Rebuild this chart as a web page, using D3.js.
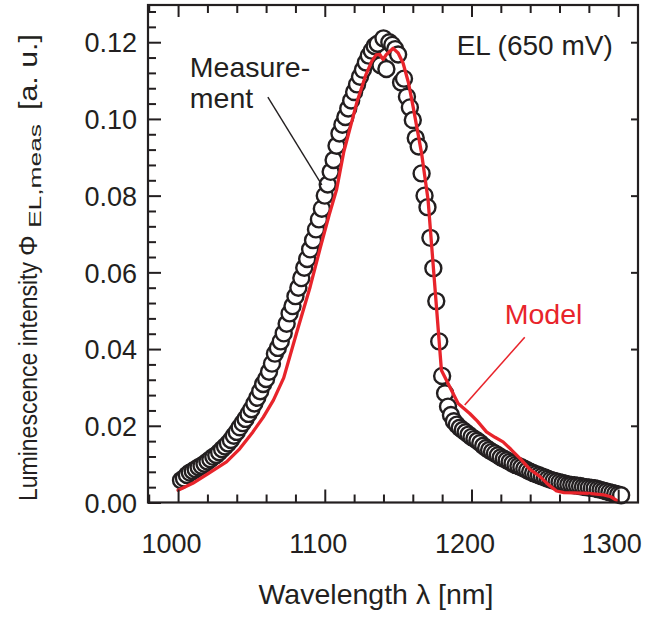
<!DOCTYPE html>
<html>
<head>
<meta charset="utf-8">
<script src="https://cdn.jsdelivr.net/npm/d3@7"></script>
<style>
  html, body { margin: 0; padding: 0; background: #fff; }
  svg { display: block; }
  text { font-family: "Liberation Sans", Arial, sans-serif; fill: #231f20; }
</style>
</head>
<body>
<svg id="chart" width="646" height="617"></svg>
<script>
// ---------------- DATA ----------------
const measWavelength = [
  1002,1004,1006,1008,1010,1012,1014,1016,1018,1020,1022,1024,1026,1028,1030,1032,1034,1036,1038,1040,
  1042,1044,1046,1048,1050,1052,1054,1056,1058,1060,1062,1064,1066,1068,1070,1072,1074,1076,1078,1080,
  1082,1084,1086,1088,1090,1092,1094,1096,1098,1100,1102,1104,1106,1108,1110,1112,1114,1116,1118,1120,
  1122,1124,1126,1128,1130,1132,1134,1136,1138,1140,1142,1144,1146,1148,1150,1152,1154,1156,1158,1160,
  1162,1164,1166,1168,1170,1172,1174,1176,1178,1180,1182,1184,1186,1188,1190,1192,1194,1196,1198,1200,
  1202,1204,1206,1208,1210,1212,1214,1216,1218,1220,1222,1224,1226,1228,1230,1232,1234,1236,1238,1240,
  1242,1244,1246,1248,1250,1252,1254,1256,1258,1260,1262,1264,1266,1268,1270,1272,1274,1276,1278,1280,
  1282,1284,1286,1288,1290,1292,1294,1296,1298,1300,1302
];
const measIntensity = [
  0.0058,0.0063,0.0072,0.0078,0.0082,0.0087,0.0092,0.0096,0.0101,0.0107,0.0113,0.0119,0.0124,0.0131,0.0139,0.0146,0.0154,0.0163,0.0174,0.0184,
  0.0196,0.0207,0.0218,0.0231,0.0243,0.0258,0.0273,0.0290,0.0309,0.0322,0.0341,0.0362,0.0388,0.0403,0.0420,0.0441,0.0466,0.0493,0.0512,0.0538,
  0.0560,0.0585,0.0612,0.0635,0.0660,0.0684,0.0712,0.0738,0.0766,0.0800,0.0829,0.0862,0.0893,0.0930,0.0962,0.0985,0.1005,0.1027,0.1048,0.1070,
  0.1090,0.1110,0.1128,0.1147,0.1165,0.1178,0.1190,0.1196,0.1140,0.1210,0.1130,0.1200,0.1193,0.1182,0.1168,0.1095,0.1105,0.1058,0.1030,0.0997,
  0.0950,0.0928,0.0858,0.0800,0.0770,0.0690,0.0611,0.0525,0.0420,0.0330,0.0285,0.0250,0.0228,0.0212,0.0203,0.0195,0.0189,0.0183,0.0177,0.0171,
  0.0166,0.0161,0.0155,0.0148,0.0142,0.0137,0.0132,0.0128,0.0123,0.0118,0.0114,0.0110,0.0106,0.0102,0.0098,0.0095,0.0092,0.0088,0.0084,0.0080,
  0.0077,0.0074,0.0071,0.0068,0.0065,0.0062,0.0059,0.0057,0.0055,0.0053,0.0051,0.0049,0.0047,0.0046,0.0045,0.0044,0.0043,0.0041,0.0040,0.0039,
  0.0038,0.0037,0.0035,0.0033,0.0031,0.0029,0.0027,0.0025,0.0023,0.0021,0.0019
];
const modelWavelength = [
  1000,1010,1020,1033,1042,1051,1058,1065,1072,1081,1090,1097,1103,1108,1113,1122,1128,1132,1135,1137.5,
  1139.7,1142,1146.6,1150,1153.4,1157,1160.2,1166,1170.4,1179.5,1190.9,1198.8,1204,1210.2,1216,1221.5,1227,1233,1240,1246.5,
  1252,1258,1263,1270,1280,1290,1295,1300
];
const modelIntensity = [
  0.0032,0.0050,0.0074,0.0106,0.0140,0.0184,0.0222,0.0267,0.0325,0.0445,0.0562,0.0665,0.0750,0.0815,0.0915,0.1045,0.1115,0.1150,0.1167,0.1168,
  0.1155,0.1168,0.1184,0.1172,0.1145,0.1095,0.1032,0.0910,0.0789,0.0345,0.0258,0.0232,0.0212,0.0184,0.0170,0.0158,0.0138,0.0115,0.0086,0.0068,
  0.0048,0.0030,0.0026,0.0025,0.0024,0.0020,0.0015,0.0003
];
const xMajorTicks = [1000, 1100, 1200, 1300];
const xTickLabels = ["1000", "1100", "1200", "1300"];
const yMajorTicks = [0, 0.02, 0.04, 0.06, 0.08, 0.10, 0.12];
const yTickLabels = ["0.00", "0.02", "0.04", "0.06", "0.08", "0.10", "0.12"];
const xMinorTicks = [980,1020,1040,1060,1080,1120,1140,1160,1180,1220,1240,1260,1280];
const yMinorTicks = [0.004,0.008,0.012,0.016,0.024,0.028,0.032,0.036,0.044,0.048,0.052,0.056,0.064,0.068,0.072,0.076,0.084,0.088,0.092,0.096,0.104,0.108,0.112,0.116,0.124,0.128];

// ---------------- LAYOUT ----------------
const L = 148, R = 638, T = 5, B = 502.5;
const svg = d3.select("#chart");
const x = d3.scaleLinear().domain([979.5, 1313.5]).range([L, R]);
const y = d3.scaleLinear().domain([0, 0.1297]).range([B, T]);
const ink = "#231f20", red = "#e8242b";

// data marks
const pts = measWavelength.map((w, i) => ({ w, v: measIntensity[i] }));
svg.append("g").selectAll("circle").data(pts).join("circle")
  .attr("cx", d => x(d.w)).attr("cy", d => y(d.v)).attr("r", 8)
  .attr("fill", "#fff").attr("stroke", ink).attr("stroke-width", 2.4);

const model = modelWavelength.map((w, i) => ({ w, v: modelIntensity[i] }));
svg.append("path").datum(model)
  .attr("fill", "none").attr("stroke", red).attr("stroke-width", 3.3)
  .attr("stroke-linejoin", "round").attr("stroke-linecap", "round")
  .attr("d", d3.line().x(d => x(d.w)).y(d => y(d.v)));

// axes (inward ticks)
function styleAxis(g) {
  g.select(".domain").remove();
  g.selectAll(".tick line").attr("stroke", ink).attr("stroke-width", 2);
  g.selectAll(".tick text").attr("fill", ink);
}
svg.append("g").attr("transform", `translate(0,${B})`)
  .call(d3.axisBottom(x).tickValues(xMajorTicks).tickSize(-13).tickPadding(0)
    .tickFormat((d, i) => xTickLabels[i]))
  .call(styleAxis)
  .call(g => g.selectAll(".tick text").attr("y", 50).attr("x", -7).attr("dy", 0)
    .attr("font-size", 27).attr("font-family", "Liberation Sans, Arial, sans-serif"));
svg.append("g").attr("transform", `translate(0,${B})`)
  .call(d3.axisBottom(x).tickValues(xMinorTicks).tickSize(-8).tickFormat(""))
  .call(styleAxis);
svg.append("g").attr("transform", `translate(0,${T})`)
  .call(d3.axisTop(x).tickValues(xMajorTicks).tickSize(-12).tickFormat(""))
  .call(styleAxis);
svg.append("g").attr("transform", `translate(0,${T})`)
  .call(d3.axisTop(x).tickValues(xMinorTicks).tickSize(-8).tickFormat(""))
  .call(styleAxis);
svg.append("g").attr("transform", `translate(${L},0)`)
  .call(d3.axisLeft(y).tickValues(yMajorTicks).tickSize(-13).tickPadding(0)
    .tickFormat((d, i) => yTickLabels[i]))
  .call(styleAxis)
  .call(g => g.selectAll(".tick text").attr("x", -11).attr("dy", "0.36em")
    .attr("font-size", 27).attr("font-family", "Liberation Sans, Arial, sans-serif"));
svg.append("g").attr("transform", `translate(${L},0)`)
  .call(d3.axisLeft(y).tickValues(yMinorTicks).tickSize(-8).tickFormat(""))
  .call(styleAxis);
svg.append("g").attr("transform", `translate(${R},0)`)
  .call(d3.axisRight(y).tickValues(yMajorTicks.slice(1)).tickSize(-7).tickFormat(""))
  .call(styleAxis);

// frame
svg.append("rect").attr("x", L).attr("y", T).attr("width", R - L).attr("height", B - T)
  .attr("fill", "none").attr("stroke", ink).attr("stroke-width", 2.2);

// axis titles
svg.append("text").attr("x", 376).attr("y", 604).attr("text-anchor", "middle")
  .attr("font-size", 28.5).text("Wavelength λ [nm]");

// y title built from segments, reading upward
const yTitleSegs = [
  { t: "Luminescence intensity", start: 501, len: 239, fs: 25, xb: 37 },
  { t: "Φ", start: 256, len: null, fs: 26, xb: 37 },
  { t: "EL,meas", start: 228, len: 104, fs: 16, xb: 41 },
  { t: "[a. u.]", start: 110, len: 76, fs: 26, xb: 37 }
];
yTitleSegs.forEach(s => {
  const t = svg.append("text")
    .attr("transform", `translate(${s.xb},${s.start}) rotate(-90)`)
    .attr("text-anchor", "start").attr("font-size", s.fs).text(s.t);
  if (s.len) t.attr("textLength", s.len).attr("lengthAdjust", "spacingAndGlyphs");
});

// annotations (in data units)
svg.append("text").attr("x", x(1008)).attr("y", y(0.1109)).attr("font-size", 28.5).text("Measure-");
svg.append("text").attr("x", x(1008)).attr("y", y(0.1028)).attr("font-size", 28.5).text("ment");
svg.append("line").attr("x1", x(1061.2)).attr("y1", y(0.1057)).attr("x2", x(1098)).attr("y2", y(0.0828))
  .attr("stroke", ink).attr("stroke-width", 1.4);
svg.append("text").attr("x", x(1296.3)).attr("y", y(0.1167)).attr("text-anchor", "end")
  .attr("font-size", 28).text("EL (650 mV)");
svg.append("text").attr("x", x(1222.7)).attr("y", y(0.0465)).attr("font-size", 28.5)
  .attr("fill", red).style("fill", red).text("Model");
svg.append("line").attr("x1", x(1236.3)).attr("y1", y(0.0431)).attr("x2", x(1195.4)).attr("y2", y(0.0254))
  .attr("stroke", red).attr("stroke-width", 1.6);
</script>
</body>
</html>
